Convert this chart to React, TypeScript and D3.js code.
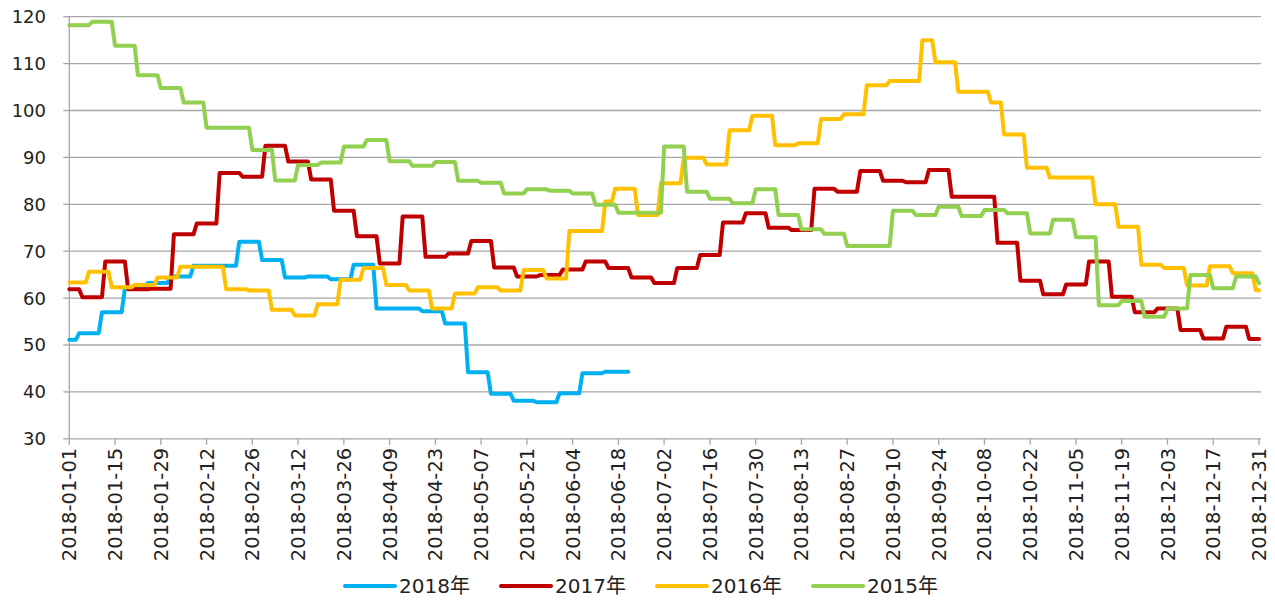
import React, { useEffect } from 'react';
import * as d3 from 'd3';

type Step = [string, number];

// weekly prices mapped onto the 2018 calendar, [segment start, value]
const s2018: Step[] = [
  ['2018-01-01', 51.1], ['2018-01-04', 52.5], ['2018-01-11', 57.0], ['2018-01-18', 62.0],
  ['2018-01-25', 63.2], ['2018-02-01', 64.6], ['2018-02-08', 66.9], ['2018-02-15', 66.9],
  ['2018-02-22', 72.0], ['2018-03-01', 68.1], ['2018-03-08', 64.4], ['2018-03-15', 64.6],
  ['2018-03-22', 64.0], ['2018-03-29', 67.1], ['2018-04-05', 57.8], ['2018-04-12', 57.8],
  ['2018-04-19', 57.2], ['2018-04-26', 54.6], ['2018-05-03', 44.2], ['2018-05-10', 39.6],
  ['2018-05-17', 38.1], ['2018-05-24', 37.8], ['2018-05-31', 39.7], ['2018-06-07', 44.0],
  ['2018-06-14', 44.3],
];
const s2018End = '2018-06-21';

const s2017: Step[] = [
  ['2018-01-01', 61.9], ['2018-01-05', 60.2], ['2018-01-12', 67.8], ['2018-01-19', 61.9],
  ['2018-01-26', 62.0], ['2018-02-02', 73.6], ['2018-02-09', 75.9], ['2018-02-16', 86.7],
  ['2018-02-23', 85.9], ['2018-03-02', 92.5], ['2018-03-09', 89.1], ['2018-03-16', 85.3],
  ['2018-03-23', 78.6], ['2018-03-30', 73.2], ['2018-04-06', 67.4], ['2018-04-13', 77.4],
  ['2018-04-20', 68.8], ['2018-04-27', 69.5], ['2018-05-04', 72.2], ['2018-05-11', 66.5],
  ['2018-05-18', 64.6], ['2018-05-25', 64.9], ['2018-06-01', 66.1], ['2018-06-08', 67.8],
  ['2018-06-15', 66.4], ['2018-06-22', 64.4], ['2018-06-29', 63.2], ['2018-07-06', 66.4],
  ['2018-07-13', 69.2], ['2018-07-20', 76.1], ['2018-07-27', 78.1], ['2018-08-03', 75.0],
  ['2018-08-10', 74.5], ['2018-08-17', 83.3], ['2018-08-24', 82.7], ['2018-08-31', 87.1],
  ['2018-09-07', 85.0], ['2018-09-14', 84.7], ['2018-09-21', 87.3], ['2018-09-28', 81.6],
  ['2018-10-05', 81.6], ['2018-10-12', 71.8], ['2018-10-19', 63.7], ['2018-10-26', 60.8],
  ['2018-11-02', 62.9], ['2018-11-09', 67.8], ['2018-11-16', 60.3], ['2018-11-23', 57.0],
  ['2018-11-30', 57.8], ['2018-12-07', 53.2], ['2018-12-14', 51.4], ['2018-12-21', 53.9],
  ['2018-12-28', 51.3],
];

const s2016: Step[] = [
  ['2018-01-01', 63.3], ['2018-01-07', 65.6], ['2018-01-14', 62.3], ['2018-01-21', 62.8],
  ['2018-01-28', 64.4], ['2018-02-04', 66.7], ['2018-02-11', 66.7], ['2018-02-18', 61.9],
  ['2018-02-25', 61.6], ['2018-03-04', 57.5], ['2018-03-11', 56.3], ['2018-03-18', 58.7],
  ['2018-03-25', 63.9], ['2018-04-01', 66.4], ['2018-04-08', 62.8], ['2018-04-15', 61.6],
  ['2018-04-22', 57.8], ['2018-04-29', 61.0], ['2018-05-06', 62.3], ['2018-05-13', 61.6],
  ['2018-05-20', 66.0], ['2018-05-27', 64.2], ['2018-06-03', 74.3], ['2018-06-10', 74.3],
  ['2018-06-14', 80.6], ['2018-06-17', 83.3], ['2018-06-24', 77.7], ['2018-07-01', 84.5],
  ['2018-07-08', 89.9], ['2018-07-15', 88.5], ['2018-07-22', 95.8], ['2018-07-29', 98.9],
  ['2018-08-05', 92.6], ['2018-08-12', 93.0], ['2018-08-19', 98.2], ['2018-08-26', 99.2],
  ['2018-09-02', 105.4], ['2018-09-09', 106.3], ['2018-09-16', 106.3], ['2018-09-19', 115.0],
  ['2018-09-23', 110.3], ['2018-09-30', 104.0], ['2018-10-07', 104.0], ['2018-10-10', 101.7],
  ['2018-10-14', 94.9], ['2018-10-21', 87.8], ['2018-10-28', 85.7], ['2018-11-04', 85.7],
  ['2018-11-11', 80.0], ['2018-11-18', 75.2], ['2018-11-25', 67.1], ['2018-12-02', 66.4],
  ['2018-12-09', 62.7], ['2018-12-16', 66.8], ['2018-12-23', 65.3], ['2018-12-30', 61.7],
];

const s2015: Step[] = [
  ['2018-01-01', 118.2], ['2018-01-08', 118.9], ['2018-01-15', 113.8], ['2018-01-22', 107.5],
  ['2018-01-29', 104.8], ['2018-02-05', 101.7], ['2018-02-12', 96.3], ['2018-02-19', 96.3],
  ['2018-02-26', 91.6], ['2018-03-05', 85.1], ['2018-03-12', 88.4], ['2018-03-19', 88.9],
  ['2018-03-26', 92.3], ['2018-04-02', 93.7], ['2018-04-09', 89.2], ['2018-04-16', 88.2],
  ['2018-04-23', 89.0], ['2018-04-30', 85.0], ['2018-05-07', 84.6], ['2018-05-14', 82.3],
  ['2018-05-21', 83.2], ['2018-05-28', 82.9], ['2018-06-04', 82.3], ['2018-06-11', 79.9],
  ['2018-06-18', 78.2], ['2018-06-25', 78.2], ['2018-07-02', 92.3], ['2018-07-09', 82.7],
  ['2018-07-16', 81.2], ['2018-07-23', 80.2], ['2018-07-30', 83.2], ['2018-08-06', 77.7],
  ['2018-08-13', 74.7], ['2018-08-20', 73.7], ['2018-08-27', 71.1], ['2018-09-03', 71.1],
  ['2018-09-10', 78.6], ['2018-09-17', 77.7], ['2018-09-24', 79.5], ['2018-10-01', 77.5],
  ['2018-10-08', 78.8], ['2018-10-15', 78.1], ['2018-10-22', 73.8], ['2018-10-29', 76.7],
  ['2018-11-05', 73.0], ['2018-11-12', 58.5], ['2018-11-19', 59.4], ['2018-11-26', 56.0],
  ['2018-12-03', 57.8], ['2018-12-10', 64.9], ['2018-12-17', 62.1], ['2018-12-24', 64.6],
  ['2018-12-31', 63.2],
];

const axisStart = '2018-01-01';
const axisEnd = '2018-12-31';
const tickStepDays = 14;
const yTicks = [30, 40, 50, 60, 70, 80, 90, 100, 110, 120];

const seriesList = [
  { name: '2018年', data: s2018, end: s2018End, color: '#00B0F0' },
  { name: '2017年', data: s2017, end: axisEnd, color: '#C00000' },
  { name: '2016年', data: s2016, end: axisEnd, color: '#FFC000' },
  { name: '2015年', data: s2015, end: axisEnd, color: '#92D050' },
];

const width = 1275;
const height = 601;
const font = '"DejaVu Sans", "Noto Sans CJK SC", sans-serif';

const parse = d3.timeParse('%Y-%m-%d');
const fmt = d3.timeFormat('%Y-%m-%d');

// turn step data into points, each level held until the day before the next change
function toPoints(data: Step[], end: string): [Date, number][] {
  const pts: [Date, number][] = [];
  data.forEach(([d, v], i) => {
    const s = parse(d)!;
    const e = i < data.length - 1 ? d3.timeDay.offset(parse(data[i + 1][0])!, -1) : parse(end)!;
    pts.push([s, v]);
    if (e > s) pts.push([e, v]);
  });
  return pts;
}

const App: React.FC = () => {
  useEffect(() => {
    document.body.style.margin = '0';
  }, []);

  const x0 = parse(axisStart)!;
  const x1 = parse(axisEnd)!;
  const x = d3.scaleTime().domain([x0, x1]).range([69.3, 1259]);
  const y = d3.scaleLinear().domain([30, 120]).range([438.8, 16.7]);
  const plotRight = 1261;

  const xTicks = d3.timeDay.range(x0, d3.timeDay.offset(x1, 1)).filter((_, i) => i % tickStepDays === 0);

  const line = d3.line<[Date, number]>()
    .x(d => x(d[0]))
    .y(d => y(d[1]));

  return (
    <svg width={width} height={height} style={{ display: 'block', background: '#fff' }}>
      {/* gridlines */}
      {yTicks.map(t => (
        <line key={t} x1={x(x0)} x2={plotRight} y1={y(t)} y2={y(t)} stroke="#a6a6a6" strokeWidth={1.3} />
      ))}
      {/* y axis */}
      <line x1={x(x0)} x2={x(x0)} y1={y(120)} y2={y(30)} stroke="#a6a6a6" strokeWidth={1.3} />
      {yTicks.map(t => (
        <g key={'yt' + t}>
          <line x1={x(x0) - 6} x2={x(x0)} y1={y(t)} y2={y(t)} stroke="#a6a6a6" strokeWidth={1.3} />
          <text x={46} y={y(t)} dy="0.36em" textAnchor="end" fontFamily={font} fontSize={18} fill="#222">
            {t}
          </text>
        </g>
      ))}
      {/* x axis */}
      {xTicks.map(t => (
        <g key={fmt(t)}>
          <line x1={x(t)} x2={x(t)} y1={y(30)} y2={y(30) + 6} stroke="#a6a6a6" strokeWidth={1.3} />
          <text
            transform={`translate(${x(t)},${y(30) + 9}) rotate(-90)`}
            dy="0.36em"
            textAnchor="end"
            fontFamily={font}
            fontSize={19.5}
            fill="#222"
          >
            {fmt(t)}
          </text>
        </g>
      ))}
      {/* series */}
      {seriesList.map(s => (
        <path
          key={s.name}
          d={line(toPoints(s.data, s.end)) || ''}
          fill="none"
          stroke={s.color}
          strokeWidth={4}
          strokeLinejoin="round"
          strokeLinecap="round"
        />
      ))}
      {/* legend */}
      {seriesList.map((s, i) => {
        const lx = 345 + i * 156;
        return (
          <g key={'lg' + s.name}>
            <line x1={lx} x2={lx + 50} y1={586} y2={586} stroke={s.color} strokeWidth={4} strokeLinecap="round" />
            <text x={lx + 54} y={586} dy="0.36em" fontFamily={font} fontSize={20} fill="#222">
              {s.name}
            </text>
          </g>
        );
      })}
    </svg>
  );
};

export default App;
